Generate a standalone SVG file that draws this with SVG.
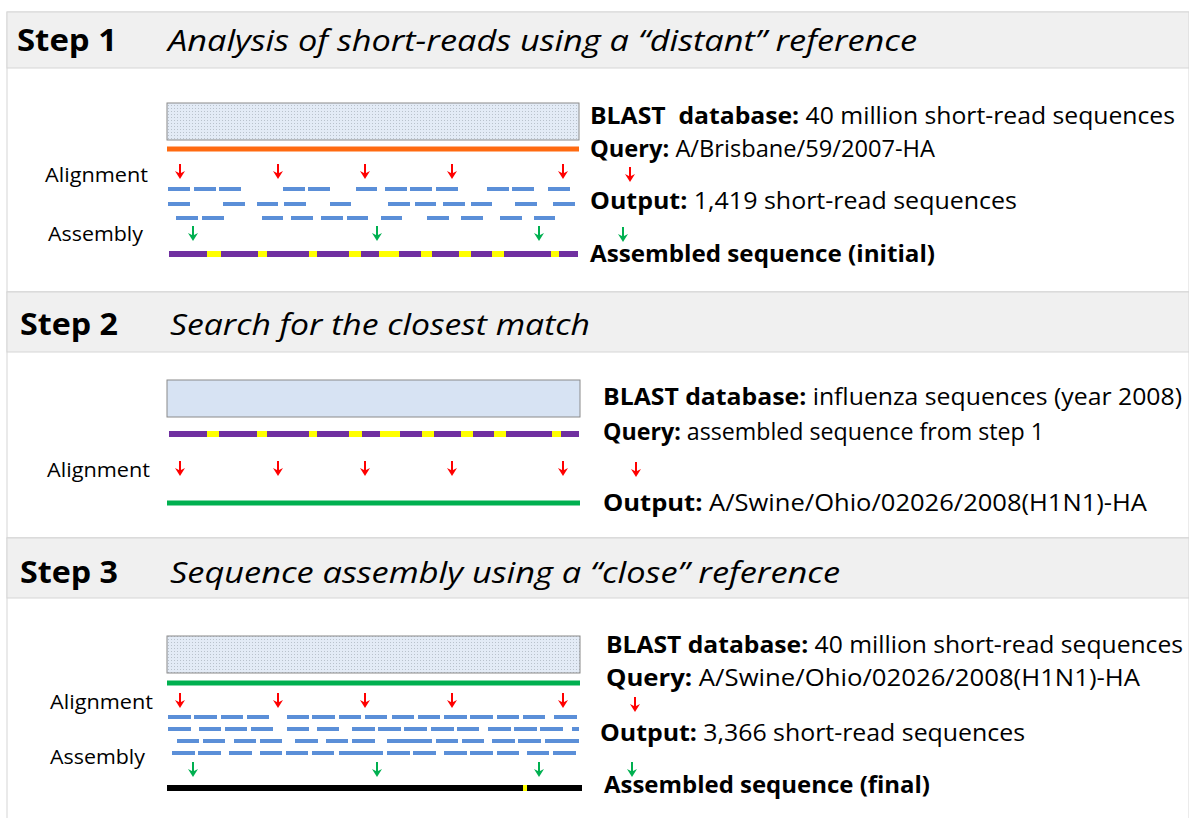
<svg xmlns="http://www.w3.org/2000/svg" xmlns:xlink="http://www.w3.org/1999/xlink" width="1189" height="818" viewBox="0 0 1189 818">
<style>
.hdr{fill:#f0f0f0;stroke:#d6d6d6;stroke-width:1}
.body{fill:#ffffff;stroke:#d6d6d6;stroke-width:1}
.step{font-family:"Open Sans","Liberation Sans",sans-serif;font-weight:bold;font-size:30px;fill:#000}
.title{font-family:"Open Sans","Liberation Sans",sans-serif;font-style:italic;font-size:30px;fill:#000}
.txt{font-family:"Open Sans","Liberation Sans",sans-serif;font-size:24px;fill:#000}
.lbl{font-family:"Open Sans","Liberation Sans",sans-serif;font-size:20.5px;fill:#000}
.b{font-weight:bold}
.db{stroke:#8a8a8a;stroke-width:1}
.rd{stroke:#5b8fd8;stroke-width:4;fill:none}
.pur{stroke:#7030a0;stroke-width:6;fill:none}
.yel{stroke:#ffff00;stroke-width:6;fill:none}
.grn{stroke:#00b050;stroke-width:5;fill:none}
</style>
<defs>
<pattern id="dots" width="3" height="3" patternUnits="userSpaceOnUse">
<rect width="3" height="3" fill="#e3ebf6"/>
<rect width="1" height="1" fill="#b9c2cc"/>
</pattern>
<g id="ra">
<line x1="0" y1="0" x2="0" y2="10" stroke="#ff0000" stroke-width="2"/>
<polygon points="-5,7 0,15 5,7 0,9.5" fill="#ff0000"/>
</g>
<g id="ga">
<line x1="0" y1="0" x2="0" y2="10" stroke="#00b050" stroke-width="2"/>
<polygon points="-5,7 0,15 5,7 0,9.5" fill="#00b050"/>
</g>
</defs>

<g id="panel1">
<rect class="body" x="7" y="12" width="1182" height="280"/>
<rect class="hdr" x="7" y="12" width="1182" height="56"/>
<text class="step" x="17" y="51" textLength="100" lengthAdjust="spacingAndGlyphs">Step 1</text>
<text class="title" x="168" y="51" textLength="749" lengthAdjust="spacingAndGlyphs">Analysis of short-reads using a “distant” reference</text>
<rect class="db" x="167" y="103" width="412" height="37" fill="url(#dots)"/>
<line x1="167" y1="149" x2="579" y2="149" stroke="#ff6a10" stroke-width="5"/>
<text class="lbl" x="45" y="182" textLength="103" lengthAdjust="spacingAndGlyphs">Alignment</text>
<text class="lbl" x="48" y="241" textLength="95" lengthAdjust="spacingAndGlyphs">Assembly</text>
<use xlink:href="#ra" x="180" y="164"/>
<use xlink:href="#ra" x="278" y="164"/>
<use xlink:href="#ra" x="365" y="164"/>
<use xlink:href="#ra" x="452" y="164"/>
<use xlink:href="#ra" x="563" y="164"/>
<use xlink:href="#ra" x="630" y="167"/>
<path class="rd" d="M168 189H190M194 189H216M219 189H241M283 189H305M308 189H330M356 189H377M385 189H407M410 189H432M436 189H458M487 189H509M512 189H534M548 189H570"/>
<path class="rd" d="M168 204H190M223 204H245M257 204H278M284 204H306M330 204H351M388 204H410M415 204H436M443 204H465M471 204H492M515 204H537M553 204H575"/>
<path class="rd" d="M176 218H198M202 218H224M262 218H283M291 218H313M321 218H343M347 218H368M381 218H402M427 218H449M461 218H483M500 218H522M534 218H555"/>
<use xlink:href="#ga" x="193" y="226"/>
<use xlink:href="#ga" x="377" y="226"/>
<use xlink:href="#ga" x="539" y="226"/>
<use xlink:href="#ga" x="623" y="227"/>
<line class="yel" x1="169" y1="254" x2="578" y2="254"/>
<path class="pur" d="M169 254H207M221 254H258M267 254H309M317 254H349M361 254H379M399 254H421M432 254H459M471 254H492M504 254H551M559 254H578"/>
<text class="txt" x="590" y="124" textLength="585" lengthAdjust="spacingAndGlyphs"><tspan class="b">BLAST&#160; database:</tspan> 40 million short-read sequences</text>
<text class="txt" x="590" y="157" textLength="345" lengthAdjust="spacingAndGlyphs"><tspan class="b">Query:</tspan> A/Brisbane/59/2007-HA</text>
<text class="txt" x="590" y="209" textLength="427" lengthAdjust="spacingAndGlyphs"><tspan class="b">Output:</tspan> 1,419 short-read sequences</text>
<text class="txt b" x="590" y="262" textLength="345" lengthAdjust="spacingAndGlyphs">Assembled sequence (initial)</text>
</g>

<g id="panel2">
<rect class="body" x="7" y="292" width="1182" height="246"/>
<rect class="hdr" x="7" y="292" width="1182" height="60"/>
<text class="step" x="20" y="335" textLength="98" lengthAdjust="spacingAndGlyphs">Step 2</text>
<text class="title" x="170" y="335" textLength="420" lengthAdjust="spacingAndGlyphs">Search for the closest match</text>
<rect class="db" x="167" y="380" width="413" height="37" fill="#d7e3f3"/>
<line class="yel" x1="169" y1="434" x2="579" y2="434"/>
<path class="pur" d="M169 434H207M219 434H257M267 434H309M317 434H349M362 434H380M400 434H422M434 434H461M473 434H494M506 434H552M561 434H579"/>
<text class="lbl" x="47" y="477" textLength="103" lengthAdjust="spacingAndGlyphs">Alignment</text>
<use xlink:href="#ra" x="180" y="461"/>
<use xlink:href="#ra" x="278" y="461"/>
<use xlink:href="#ra" x="365" y="461"/>
<use xlink:href="#ra" x="452" y="461"/>
<use xlink:href="#ra" x="563" y="461"/>
<use xlink:href="#ra" x="636" y="462"/>
<line class="grn" x1="167" y1="503" x2="580" y2="503"/>
<text class="txt" x="603" y="405" textLength="579" lengthAdjust="spacingAndGlyphs"><tspan class="b">BLAST database:</tspan> influenza sequences (year 2008)</text>
<text class="txt" x="603" y="440" textLength="441" lengthAdjust="spacingAndGlyphs"><tspan class="b">Query:</tspan> assembled sequence from step 1</text>
<text class="txt" x="603" y="511" textLength="544" lengthAdjust="spacingAndGlyphs"><tspan class="b">Output:</tspan> A/Swine/Ohio/02026/2008(H1N1)-HA</text>
</g>

<g id="panel3">
<rect class="body" x="7" y="538" width="1182" height="290"/>
<rect class="hdr" x="7" y="538" width="1182" height="60"/>
<text class="step" x="20" y="583" textLength="98" lengthAdjust="spacingAndGlyphs">Step 3</text>
<text class="title" x="170" y="583" textLength="670" lengthAdjust="spacingAndGlyphs">Sequence assembly using a “close” reference</text>
<rect class="db" x="167" y="636" width="413" height="37" fill="url(#dots)"/>
<line class="grn" x1="167" y1="683" x2="580" y2="683"/>
<text class="lbl" x="50" y="709" textLength="103" lengthAdjust="spacingAndGlyphs">Alignment</text>
<text class="lbl" x="50" y="764" textLength="95" lengthAdjust="spacingAndGlyphs">Assembly</text>
<use xlink:href="#ra" x="180" y="693"/>
<use xlink:href="#ra" x="278" y="693"/>
<use xlink:href="#ra" x="365" y="693"/>
<use xlink:href="#ra" x="452" y="693"/>
<use xlink:href="#ra" x="563" y="693"/>
<use xlink:href="#ra" x="635" y="697"/>
<path class="rd" d="M168 717H191M194 717H217M221 717H243M247 717H269M287 717H309M312 717H335M339 717H361M365 717H387M392 717H414M418 717H440M444 717H467M470 717H493M497 717H519M523 717H545M554 717H577"/>
<path class="rd" d="M168 729H191M199 729H221M225 729H247M251 729H273M287 729H309M317 729H339M352 729H375M378 729H401M404 729H427M431 729H454M457 729H479M488 729H511M514 729H537M540 729H563M572 729H579"/>
<path class="rd" d="M177 741H199M203 741H225M234 741H256M260 741H282M295 741H318M326 741H348M352 741H375M387 741H432M436 741H458M462 741H484M492 741H515M518 741H541M545 741H579"/>
<path class="rd" d="M172 753H195M198 753H221M229 753H252M260 753H282M286 753H308M312 753H334M339 753H383M387 753H410M413 753H436M444 753H467M470 753H493M497 753H519M527 753H549M553 753H576"/>
<use xlink:href="#ga" x="193" y="762"/>
<use xlink:href="#ga" x="377" y="762"/>
<use xlink:href="#ga" x="539" y="762"/>
<use xlink:href="#ga" x="632" y="762"/>
<line x1="167" y1="788" x2="582" y2="788" stroke="#000" stroke-width="6"/>
<rect x="523" y="785" width="4" height="6" fill="#ffff00"/>
<text class="txt" x="606" y="653" textLength="577" lengthAdjust="spacingAndGlyphs"><tspan class="b">BLAST database:</tspan> 40 million short-read sequences</text>
<text class="txt" x="606" y="686" textLength="534" lengthAdjust="spacingAndGlyphs"><tspan class="b">Query:</tspan> A/Swine/Ohio/02026/2008(H1N1)-HA</text>
<text class="txt" x="600" y="741" textLength="425" lengthAdjust="spacingAndGlyphs"><tspan class="b">Output:</tspan> 3,366 short-read sequences</text>
<text class="txt b" x="604" y="793" textLength="326" lengthAdjust="spacingAndGlyphs">Assembled sequence (final)</text>
</g>
</svg>
